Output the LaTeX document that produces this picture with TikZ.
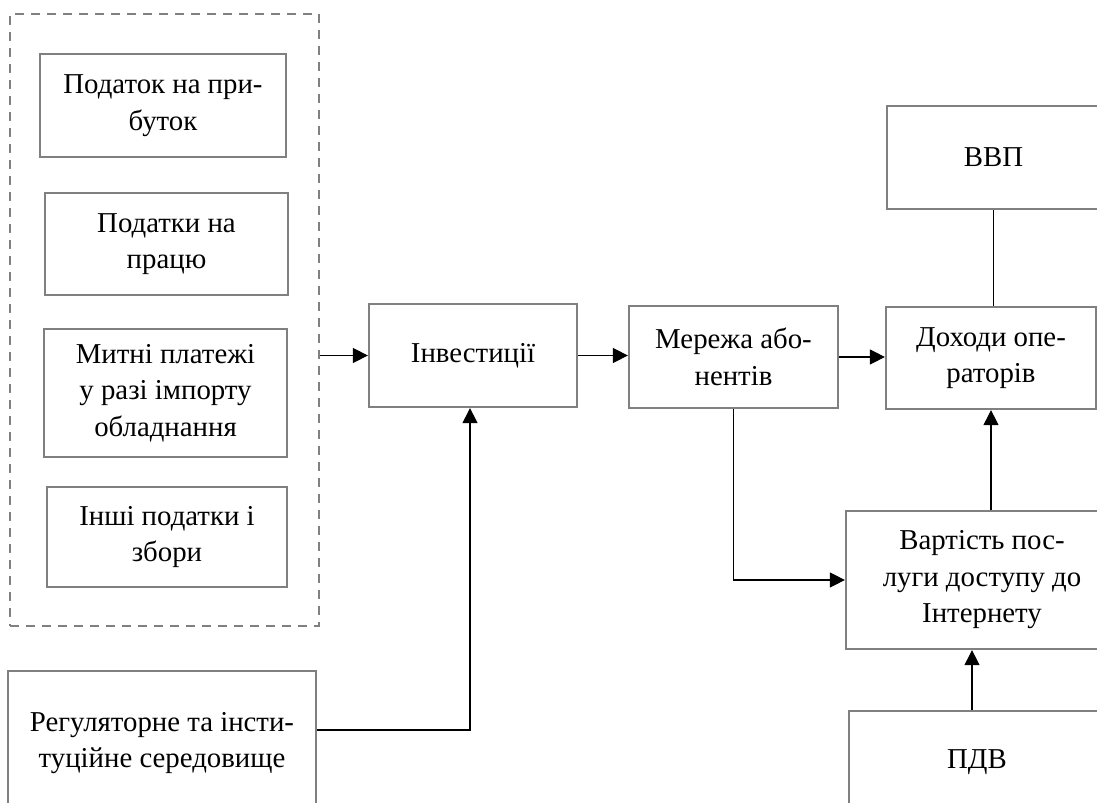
\documentclass[tikz,border=0pt]{standalone}
\usepackage{fontspec}
\setmainfont{Liberation Serif}
\usepackage{tikz}
\usetikzlibrary{calc}
\usetikzlibrary{arrows.meta}
\usetikzlibrary{positioning}
\tikzset{box/.style={rectangle,draw=black!50,line width=1.3pt,align=center,inner sep=2pt,font=\fontsize{16.4}{20.8}\selectfont}}
\tikzset{group/.style={rectangle,draw=black!50,line width=1.3pt,dash pattern=on 0.18cm off 0.14cm}}
\tikzset{link/.style={line width=0.6pt,-{Triangle[length=0.3cm,width=0.3cm]}}}
\tikzset{plain/.style={line width=0.6pt}}

\begin{document}
\begin{tikzpicture}[x=0.02cm,y=-0.02cm]

\clip (0,0) rectangle (1097,803);

% taxes group
\node[group,minimum width=6.18cm,minimum height=12.24cm] (taxes) at (164.5,320) {};
\node[box,minimum width=4.92cm,minimum height=2.06cm] (profit) at (163,105.5) {Податок на при-\\буток};
\node[box,minimum width=4.86cm,minimum height=2.04cm] (labour) at (166.5,244) {Податки на\\працю};
\node[box,minimum width=4.86cm,minimum height=2.56cm] (customs) at (165.5,393) {Митні платежі\\у разі імпорту\\обладнання};
\node[box,minimum width=4.80cm,minimum height=2.00cm] (other) at (167,537) {Інші податки і\\збори};

\node[box,minimum width=6.16cm,minimum height=2.88cm] (reg) at (162,743) {Регуляторне та інсти-\\туційне середовище};

% middle chain
\node[box,minimum width=4.16cm,minimum height=2.06cm] (inv) at (473,355.5) {Інвестиції};
\node[box,minimum width=4.18cm,minimum height=2.04cm] (net) at (733.5,357) {Мережа або-\\нентів};

% right column
\node[box,minimum width=4.26cm,minimum height=2.06cm] (gdp) at (993.5,157.5) {ВВП};
\node[box,minimum width=4.20cm,minimum height=2.04cm] (rev) at (991,358) {Доходи опе-\\раторів};
\node[box,minimum width=5.44cm,minimum height=2.76cm] (cost) at (982,580) {Вартість пос-\\луги доступу до\\Інтернету};
\node[box,minimum width=5.12cm,minimum height=2.04cm] (vat) at (977,762) {ПДВ};

\draw[link] (taxes.east |- inv.west) -- (inv.west);
\draw[link] (inv.east) -- (inv.east -| net.west);
\draw[link] (net.east) -- (net.east -| rev.west);
\draw[plain] (gdp.south) -- (gdp.south |- rev.north);
\draw[link] (net.south) |- (cost.west);
\draw[link] (rev.south |- cost.north) -- (rev.south);
\draw[link] ([xshift=-0.1cm]vat.north) -- ([xshift=-0.1cm]vat.north |- cost.south);
\draw[link] ([yshift=0.26cm]reg.east) -| ([xshift=-0.06cm]inv.south);

\end{tikzpicture}
\end{document}
